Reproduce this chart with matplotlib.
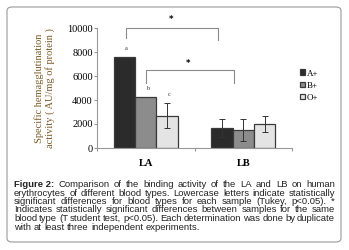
import matplotlib
matplotlib.use("Agg")
import matplotlib.pyplot as plt
from matplotlib.patches import FancyBboxPatch
import numpy as np

# data
samples = ["LA", "LB"]
blood_types = ["A+", "B+", "O+"]
means = {
    "A+": [7600, 1650],
    "B+": [4250, 1500],
    "O+": [2700, 2000],
}
errors = {
    "A+": [0, 750],
    "B+": [0, 900],
    "O+": [1050, 700],
}
tukey_letters = ["a", "b", "c"]
colors = {"A+": "#2b2b2b", "B+": "#8c8c8c", "O+": "#e4e4e4"}

caption_lines = [
    "Comparison of the binding activity of the LA and LB on human",
    "erythrocytes of different blood types. Lowercase letters indicate statistically",
    "significant differences for blood types for each sample (Tukey, p<0.05). *",
    "Indicates statistically significant differences between samples for the same",
    "blood type (T student test, p<0.05). Each determination was done by duplicate",
    "with at least three independent experiments.",
]

W, H = 349, 250
fig = plt.figure(figsize=(W / 100, H / 100), dpi=100)

# rounded frame round the whole figure
frame = FancyBboxPatch((7 / W, 8 / H), 334 / W, 235 / H,
                       boxstyle="round,pad=0,rounding_size=0.015",
                       transform=fig.transFigure, facecolor="none",
                       edgecolor="#9a9a9a", linewidth=0.8)
fig.patches.append(frame)

ax = fig.add_axes([97 / W, 1 - 148 / H, 195 / W, 120 / H])
x = np.arange(len(samples))
width = 0.22
for i, bt in enumerate(blood_types):
    pos = x + (i - 1) * width
    err = np.array(errors[bt], dtype=float)
    ax.bar(pos, means[bt], width, color=colors[bt], edgecolor="#3a3a3a",
           linewidth=0.9, label=bt, zorder=2)
    mask = err > 0
    ax.errorbar(pos[mask], np.array(means[bt])[mask], yerr=err[mask], fmt="none",
                ecolor="#333333", elinewidth=0.7, capsize=2, capthick=0.7, zorder=3)
    # Tukey letters over the LA bars
    ax.text(pos[0] + 0.02, means[bt][0] + err[0] + 500, tukey_letters[i],
            ha="center", va="bottom", fontsize=4.5, family="Liberation Serif",
            color="#333333")

ax.set_xlim(-0.5, 1.5)
ax.set_ylim(0, 10000)
ax.set_yticks(np.arange(0, 10001, 2000))
ax.set_xticks([-0.5, 0.5, 1.5])
ax.set_xticklabels([])
ax.tick_params(axis="x", length=2, color="#999999")
ax.tick_params(axis="y", length=2, color="#999999", pad=1, labelsize=7.5)
for lab in ax.get_yticklabels():
    lab.set_family("Liberation Serif")
for s in ["top", "right"]:
    ax.spines[s].set_visible(False)
for s in ["left", "bottom"]:
    ax.spines[s].set_color("#999999")
    ax.spines[s].set_linewidth(0.8)
for xi, name in zip(x, samples):
    ax.text(xi, -900, name, ha="center", va="top", fontsize=7.5,
            family="Liberation Serif", fontweight="bold")

ax.set_ylabel("Specific hemagglutination\nactivity ( AU/mg of protein )",
              family="Liberation Serif", fontsize=7.5, color="#7a5a22",
              labelpad=9, linespacing=1.1)

# significance brackets
br = dict(color="#8a8a8a", lw=0.8, clip_on=False)
ax.plot([-0.2, -0.2, 0.74, 0.74], [9150, 10000, 10000, 9000], **br)
ax.text(0.26, 10350, "*", ha="center", va="bottom", fontsize=6, fontweight="bold")
ax.plot([0.0, 0.0, 0.9, 0.9], [5400, 6500, 6500, 5400], **br)
ax.text(0.43, 6700, "*", ha="center", va="bottom", fontsize=6, fontweight="bold")

leg = ax.legend(loc="center left", bbox_to_anchor=(1.02, 0.52), frameon=False,
                prop={"family": "Liberation Serif", "size": 6.5},
                handlelength=0.6, handleheight=0.6, handletextpad=0.2,
                labelspacing=0.45, borderaxespad=0)

# justified caption, font size fitted to the longest line
fig.canvas.draw()
renderer = fig.canvas.get_renderer()
x0, x1 = 14 / W, 335 / W
span_px = (x1 - x0) * fig.bbox.width
probe = fig.text(0, 0, caption_lines[1], fontsize=6, family="Liberation Sans")
fs = 6 * span_px / probe.get_window_extent(renderer).width * 0.99
probe.remove()

y_tops = [180, 188.5, 197, 205.5, 214, 222.5]
for k, line in enumerate(caption_lines):
    yy = 1 - y_tops[k] / H
    pieces = []
    if k == 0:
        pieces.append(("Figure 2:", "bold"))
    pieces += [(w, "normal") for w in line.split(" ")]
    arts = []
    total = 0
    for txt, wt in pieces:
        t = fig.text(0, yy, txt, fontsize=fs, family="Liberation Sans",
                     fontweight=wt, va="top", ha="left", color="#222222")
        w = t.get_window_extent(renderer).width / fig.bbox.width
        arts.append((t, w))
        total += w
    if k < len(caption_lines) - 1:
        gap = (x1 - x0 - total) / (len(arts) - 1)
    else:
        sp = fig.text(0, 0, "a a", fontsize=fs, family="Liberation Sans")
        sp2 = fig.text(0, 0, "aa", fontsize=fs, family="Liberation Sans")
        gap = (sp.get_window_extent(renderer).width
               - sp2.get_window_extent(renderer).width) / fig.bbox.width
        sp.remove()
        sp2.remove()
    cx = x0
    for t, w in arts:
        t.set_x(cx)
        cx += w + gap

fig.savefig("out.png", dpi=100)
